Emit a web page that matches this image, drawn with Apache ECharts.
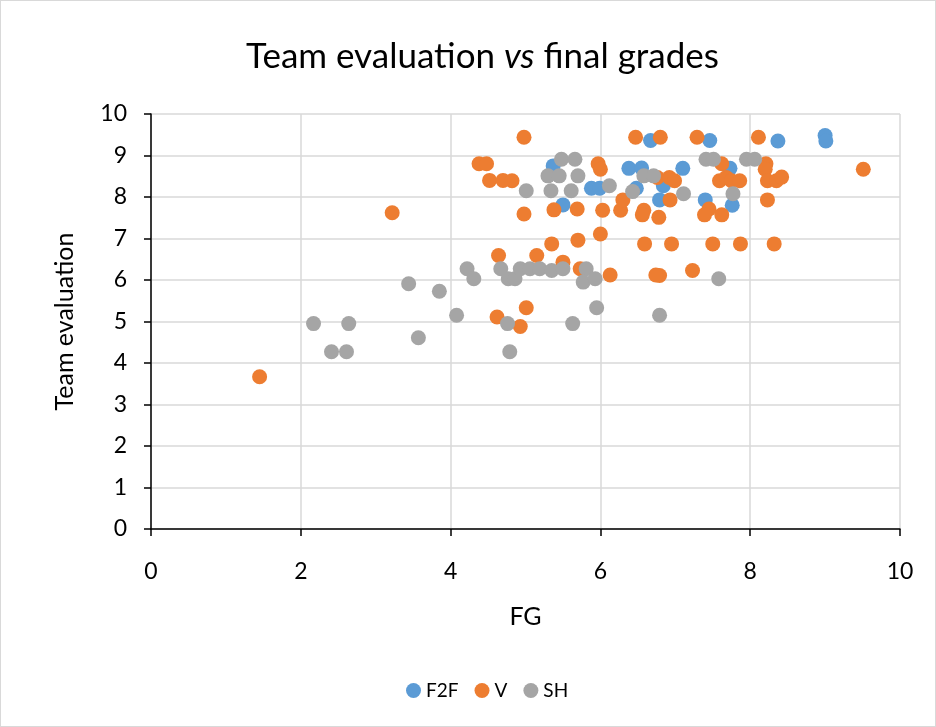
<!DOCTYPE html>
<html>
<head>
<meta charset="utf-8">
<script src="https://cdn.jsdelivr.net/npm/echarts@6/dist/echarts.min.js"></script>
<style>
  html, body { margin: 0; padding: 0; background: #fff; }
  #container { width: 934px; height: 725px; border: 1px solid #d9d9d9; }
</style>
</head>
<body>
<div id="container"></div>
<script type="text/javascript">

var seriesNames = ['F2F', 'V', 'SH'];
var seriesColors = ['#5b9bd5', '#ed7d31', '#a5a5a5'];

// [FG, team evaluation]
var f2f = [
  [5.37, 8.75], [5.50, 7.81], [5.88, 8.21], [5.99, 8.21], [6.38, 8.69], [6.55, 8.70],
  [6.48, 8.21], [6.67, 9.36], [6.84, 8.27], [6.79, 7.93], [7.10, 8.69], [7.46, 9.36],
  [7.73, 8.69], [7.40, 7.93], [7.76, 7.80], [8.37, 9.35], [9.00, 9.48], [9.01, 9.35]
];

var v = [
  [1.45, 3.67], [3.22, 7.62], [4.98, 9.44], [4.38, 8.80], [4.48, 8.80], [4.52, 8.40],
  [4.70, 8.40], [4.82, 8.39], [5.97, 8.80], [6.00, 8.67], [6.47, 9.44], [6.80, 9.44],
  [4.98, 7.59], [5.38, 7.69], [5.69, 7.71], [6.03, 7.68], [6.27, 7.68], [6.30, 7.93],
  [6.58, 7.68], [6.56, 7.57], [6.78, 7.51], [6.93, 7.93], [6.00, 7.11], [5.35, 6.87],
  [5.70, 6.96], [6.59, 6.87], [6.95, 6.87], [7.29, 9.44], [8.11, 9.44], [6.76, 8.47],
  [6.92, 8.47], [6.99, 8.39], [7.62, 8.80], [7.59, 8.39], [7.68, 8.47], [7.75, 8.39],
  [7.86, 8.39], [8.21, 8.80], [8.20, 8.67], [8.23, 8.39], [8.35, 8.39], [8.42, 8.48],
  [9.51, 8.67], [7.45, 7.71], [7.39, 7.57], [7.62, 7.57], [8.23, 7.93], [7.50, 6.87],
  [7.87, 6.87], [8.32, 6.87], [6.79, 6.11], [7.23, 6.23], [4.64, 6.59], [5.15, 6.59],
  [5.50, 6.43], [5.73, 6.27], [6.13, 6.12], [6.74, 6.12], [4.62, 5.11], [4.93, 4.88],
  [5.01, 5.33]
];

var sh = [
  [2.17, 4.95], [2.64, 4.95], [2.41, 4.27], [2.61, 4.27], [3.44, 5.91], [3.85, 5.73],
  [3.57, 4.61], [4.08, 5.15], [4.22, 6.27], [4.31, 6.03], [4.67, 6.27], [4.77, 6.03],
  [4.86, 6.03], [4.93, 6.27], [5.06, 6.27], [5.19, 6.27], [5.35, 6.23], [5.50, 6.27],
  [5.81, 6.27], [5.77, 5.95], [5.93, 6.03], [4.76, 4.95], [4.79, 4.27], [5.63, 4.95],
  [5.95, 5.33], [6.79, 5.15], [7.58, 6.03], [5.48, 8.91], [5.66, 8.91], [5.30, 8.51],
  [5.45, 8.51], [5.70, 8.51], [5.01, 8.15], [5.34, 8.15], [5.61, 8.15], [6.12, 8.27],
  [6.58, 8.51], [6.71, 8.51], [6.43, 8.13], [7.41, 8.91], [7.51, 8.91], [7.95, 8.91],
  [8.06, 8.91], [7.11, 8.08], [7.77, 8.08]
];

var allData = [f2f, v, sh];

var dom = document.getElementById("container");
var myChart = echarts.init(dom);
var fontName = 'Lato';

var series1 = [];
for (var i = 0; i < seriesNames.length; i++) {
  series1.push({
    name: seriesNames[i],
    type: 'scatter',
    data: allData[i],
    symbolSize: 15,
    itemStyle: { color: seriesColors[i], opacity: 1 }
  });
}

var option = {
  animation: false,
  textStyle: { fontFamily: fontName },
  title: {
    text: '{a|Team evaluation }{b|vs}{a| final grades}',
    left: 240,
    top: 33,
    textStyle: {
      fontWeight: 'normal',
      rich: {
        a: { fontFamily: fontName, fontSize: 35, color: '#000', fontWeight: 'normal' },
        b: { fontFamily: fontName, fontSize: 35, color: '#000', fontWeight: 'normal', fontStyle: 'italic' }
      }
    }
  },
  legend: {
    data: seriesNames,
    bottom: 21,
    left: 400,
    icon: 'circle',
    itemWidth: 15,
    itemHeight: 15,
    itemGap: 16,
    textStyle: { fontFamily: fontName, fontSize: 19, color: '#000' }
  },
  grid: { left: 150, right: 35, top: 113, bottom: 197 },
  xAxis: {
    type: 'value',
    min: 0, max: 10, interval: 2,
    name: 'FG',
    nameLocation: 'middle',
    nameGap: 75,
    nameTextStyle: { fontFamily: fontName, fontSize: 25, color: '#000' },
    axisLine: { show: true, onZero: false, lineStyle: { color: '#000', width: 1.5 } },
    axisTick: { show: true, length: 7, lineStyle: { color: '#000', width: 1.5 } },
    axisLabel: { fontFamily: fontName, fontSize: 23, color: '#000', margin: 31 },
    splitLine: { show: true, lineStyle: { color: '#d9d9d9', width: 1.5 } }
  },
  yAxis: {
    type: 'value',
    min: 0, max: 10, interval: 1,
    name: 'Team evaluation',
    nameLocation: 'middle',
    nameGap: 74,
    nameTextStyle: { fontFamily: fontName, fontSize: 25, color: '#000' },
    axisLine: { show: true, lineStyle: { color: '#000', width: 1.5 } },
    axisTick: { show: true, length: 7, lineStyle: { color: '#000', width: 1.5 } },
    axisLabel: { fontFamily: fontName, fontSize: 23, color: '#000', margin: 24 },
    splitLine: { show: true, lineStyle: { color: '#d9d9d9', width: 1.5 } }
  },
  series: series1
};

myChart.setOption(option, true);
</script>
</body>
</html>
